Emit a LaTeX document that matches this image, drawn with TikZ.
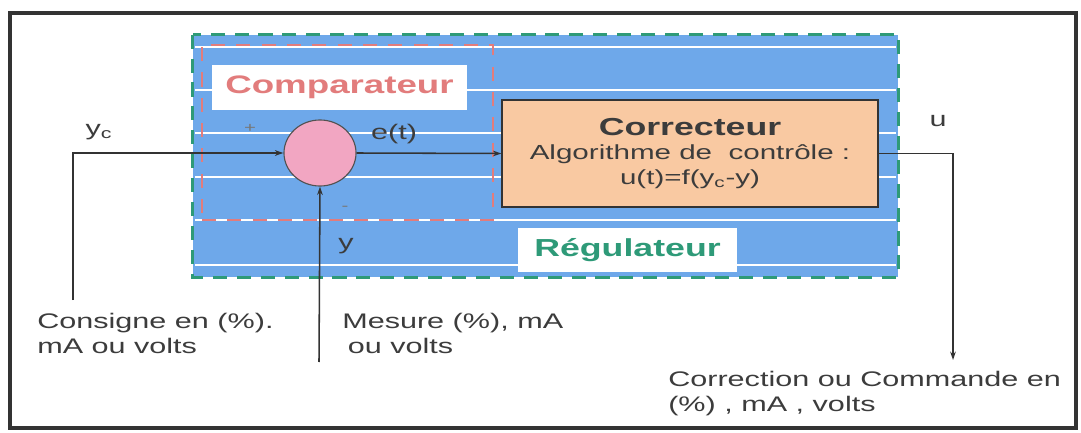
\documentclass[tikz,border=0pt]{standalone}
\usepackage{fontspec}
\setmainfont{Liberation Sans}[FakeStretch=1.45]
\usepackage{xcolor}
\usetikzlibrary{arrows.meta,positioning,shapes.geometric,backgrounds}
\definecolor{Frame}{HTML}{333333}
\definecolor{Ink}{HTML}{3C3C3C}
\definecolor{Sky}{HTML}{6EA8EA}
\definecolor{RegGreen}{HTML}{2E9A78}
\definecolor{CmpRed}{HTML}{E27C7C}
\definecolor{Pink}{HTML}{F2A6C2}
\definecolor{Peach}{HTML}{F9C9A2}

\begin{document}
\begin{tikzpicture}[x=0.025cm,y=-0.025cm,
  zone/.style={fill=Sky,minimum width=17.625cm,minimum height=6.05cm,inner sep=0pt},
  zoneline/.style={draw=RegGreen,line width=2pt,dash pattern=on 10pt off 7pt},
  stripe/.style={draw=white,line width=1.3pt},
  cmpzone/.style={draw=CmpRed,line width=1.6pt,dash pattern=on 10pt off 8pt,minimum width=7.275cm,minimum height=4.375cm,inner sep=0pt},
  tag/.style={fill=white,inner sep=0pt,font=\fontsize{18}{20}\selectfont\bfseries},
  sum/.style={ellipse,draw=Frame!85,fill=Pink,line width=0.8pt,minimum width=1.8cm,minimum height=1.65cm},
  corrbox/.style={draw=Frame,fill=Peach,line width=0.8pt,minimum width=9.4cm,minimum height=2.675cm,align=center,text=Ink},
  lbl/.style={text=Ink,font=\fontsize{15}{18}\selectfont,inner sep=1pt},
  sign/.style={text=Ink!70,font=\fontsize{10}{12}\selectfont,inner sep=0pt},
  note/.style={anchor=north west,align=left,text=Ink,font=\fontsize{15}{17.8}\selectfont,inner sep=0pt},
  flow/.style={-{Stealth[length=6pt,width=4pt]},line width=1.1pt,draw=Frame},
  frame/.style={draw=Frame,line width=3pt}
]
\useasboundingbox (0,0) rectangle (1081,433);
\fill[white] (0,0) rectangle (1081,433);
\draw[frame] (10,13) rectangle (1076,428);

% regulateur zone with its stripes
\node[zone] (reg) at (545.5,156) {};
\foreach \yy in {47,90,133,177,220,265}
  \draw[stripe,shorten <=2pt,shorten >=2pt] (reg.west |- 0,\yy) -- (reg.east |- 0,\yy);
\draw[zoneline] (reg.north west) rectangle (reg.south east);

\node[cmpzone] (cmpz) at (347.5,132.5) {};
\node[tag,text=CmpRed,minimum width=6.375cm,minimum height=1.125cm] (cmplab) at (339.5,87.5) {Comparateur};
\node[tag,text=RegGreen,minimum width=5.475cm,minimum height=1.1cm,font=\fontsize{17.5}{20}\selectfont\bfseries] (reglab) at (627.5,250) {Régulateur};

\node[sum] (sum) at (320,153) {};
\node[corrbox,font=\fontsize{14.5}{17.5}\selectfont] (corr) at (690,153.5)
  {\textbf{\fontsize{17.5}{18}\selectfont Correcteur}\\[0pt]
   Algorithme de \ contrôle :\\u(t)=f(y\textsubscript{c}-y)};

\node[lbl,anchor=west] (yc) at (84,132) {y\textsubscript{c}};
\node[lbl] (et) at (394,134) {e(t)};
\node[lbl] (ylab) at (346,246) {y};
\node[lbl] (ulab) at (938,121) {u};
\node[sign] (plus) at (250,128) {+};
\node[sign] (minus) at (345,208) {-};

\node[note] (consigne) at (37,313) {Consigne en (\%).\\mA ou volts};
\node[note] (mesure) at (342,313) {Mesure (\%), mA\\\hspace*{4pt}ou volts};
\node[note] (commande) at (668,371) {Correction ou Commande en\\(\%) , mA , volts};

\coordinate (cons) at (73,300);
\coordinate (mes) at (319,362);
\coordinate (cmd) at (953,360);
\draw[flow] (cons) |- (sum.west);
\draw[flow] (mes) -- (sum.south);
\draw[flow] (sum.east) -- (corr.west);
\draw[flow] (corr.east) -| (cmd);
\end{tikzpicture}
\end{document}
